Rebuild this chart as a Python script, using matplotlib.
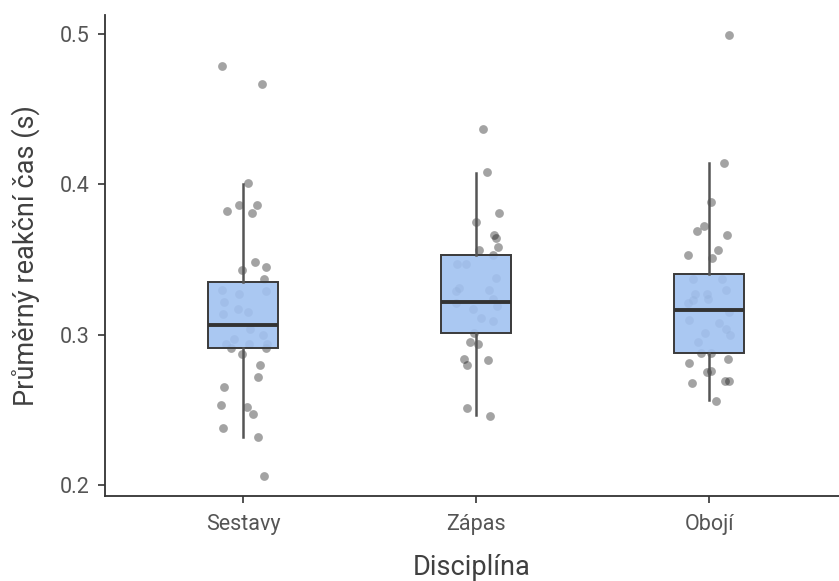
import matplotlib
matplotlib.use("Agg")
import matplotlib.pyplot as plt
import numpy as np

plt.rcParams['font.family'] = ['Roboto', 'DejaVu Sans']

categories = ["Sestavy", "Zápas", "Obojí"]

# box statistics
q1 = [0.291, 0.301, 0.288]
med = [0.3064, 0.3219, 0.3164]
q3 = [0.335, 0.353, 0.3403]
whislo = [0.232, 0.2465, 0.2565]
whishi = [0.400, 0.4077, 0.4144]

# jittered individual points: (horizontal offset, value)
sestavy_off = [-0.090, 0.079, 0.021, -0.018, 0.060, -0.071, 0.037, 0.052, 0.097, -0.004,
               0.089, -0.093, -0.017, 0.096, -0.084, -0.086, -0.023, 0.020, 0.029, 0.086,
               -0.040, -0.076, -0.053, 0.026, 0.102, 0.097, -0.006, 0.072, 0.062, -0.084,
               -0.096, 0.017, 0.042, -0.088, 0.064, 0.088]
sestavy_val = [0.479, 0.467, 0.401, 0.386, 0.386, 0.382, 0.381, 0.348, 0.345, 0.343,
               0.337, 0.330, 0.327, 0.329, 0.322, 0.314, 0.317, 0.315, 0.304, 0.300,
               0.297, 0.294, 0.291, 0.294, 0.294, 0.291, 0.287, 0.280, 0.272, 0.265,
               0.253, 0.252, 0.247, 0.238, 0.232, 0.206]
zapas_off = [0.027, 0.046, 0.097, -0.003, 0.076, 0.085, 0.094, 0.013, 0.070, -0.084,
             -0.044, 0.085, -0.073, -0.088, 0.055, 0.073, -0.088, 0.090, -0.013, 0.020,
             0.073, -0.009, -0.027, 0.007, -0.054, -0.041, 0.052, -0.039, 0.058]
zapas_val = [0.437, 0.408, 0.381, 0.375, 0.366, 0.364, 0.358, 0.356, 0.353, 0.347,
             0.347, 0.338, 0.331, 0.329, 0.330, 0.324, 0.321, 0.319, 0.317, 0.311,
             0.309, 0.301, 0.295, 0.294, 0.284, 0.280, 0.283, 0.251, 0.246]
oboji_off = [0.083, 0.063, 0.009, 0.077, -0.052, -0.024, 0.036, -0.089, 0.013, -0.070,
             0.056, 0.074, -0.063, -0.009, -0.007, -0.089, -0.070, 0.083, -0.087, 0.043,
             0.074, 0.088, -0.016, -0.048, -0.034, 0.006, -0.085, 0.080, 0.006, -0.010,
             -0.074, 0.066, 0.087, 0.029]
oboji_val = [0.499, 0.414, 0.388, 0.366, 0.369, 0.372, 0.356, 0.353, 0.351, 0.337,
             0.337, 0.330, 0.327, 0.327, 0.324, 0.321, 0.323, 0.315, 0.310, 0.308,
             0.304, 0.300, 0.301, 0.295, 0.288, 0.288, 0.281, 0.284, 0.276, 0.275,
             0.268, 0.269, 0.269, 0.256]

x_label = "Disciplína"
y_label = "Průměrný reakční čas (s)"
y_ticks = [0.2, 0.3, 0.4, 0.5]

fig = plt.figure(figsize=(8.39, 5.81), dpi=100)
ax = fig.add_axes([0.1251, 0.1463, 0.8749, 0.8279])

positions = [1, 2, 3]
offsets = [sestavy_off, zapas_off, oboji_off]
values = [sestavy_val, zapas_val, oboji_val]
for pos, off, val in zip(positions, offsets, values):
    ax.scatter(pos + np.array(off), val, s=40, color='black', alpha=0.36,
               linewidths=0, zorder=2)

stats = []
for i, name in enumerate(categories):
    stats.append(dict(label=name, q1=q1[i], med=med[i], q3=q3[i],
                      whislo=whislo[i], whishi=whishi[i], fliers=[]))

ax.bxp(stats, positions=positions, widths=0.3, patch_artist=True,
       showfliers=False, showcaps=False,
       boxprops=dict(facecolor=(0.63, 0.76, 0.944, 0.9), edgecolor='#3a3a3a', linewidth=1.4),
       whiskerprops=dict(color='#555555', linewidth=1.8),
       medianprops=dict(color='#333333', linewidth=2.8),
       zorder=3)

ax.set_xlim(0.4064, 3.557)
ax.set_ylim(0.1927, 0.5126)
ax.set_xticks(positions)
ax.set_xticklabels(categories)
ax.set_yticks(y_ticks)
ax.set_yticklabels([f"{t:.1f}" for t in y_ticks])

for s in ['top', 'right']:
    ax.spines[s].set_visible(False)
for s in ['left', 'bottom']:
    ax.spines[s].set_color('#333333')
    ax.spines[s].set_linewidth(1.3)

ax.tick_params(axis='both', length=5, width=1.2, color='#333333',
               labelcolor='#555555', labelsize=15.5)
ax.tick_params(axis='x', pad=8)
ax.tick_params(axis='y', pad=6)
ax.set_xlabel(x_label, fontsize=19.5, color='#404040', labelpad=14)
ax.set_ylabel(y_label, fontsize=19.5, color='#404040', labelpad=14)

fig.savefig("out.png", dpi=100)
